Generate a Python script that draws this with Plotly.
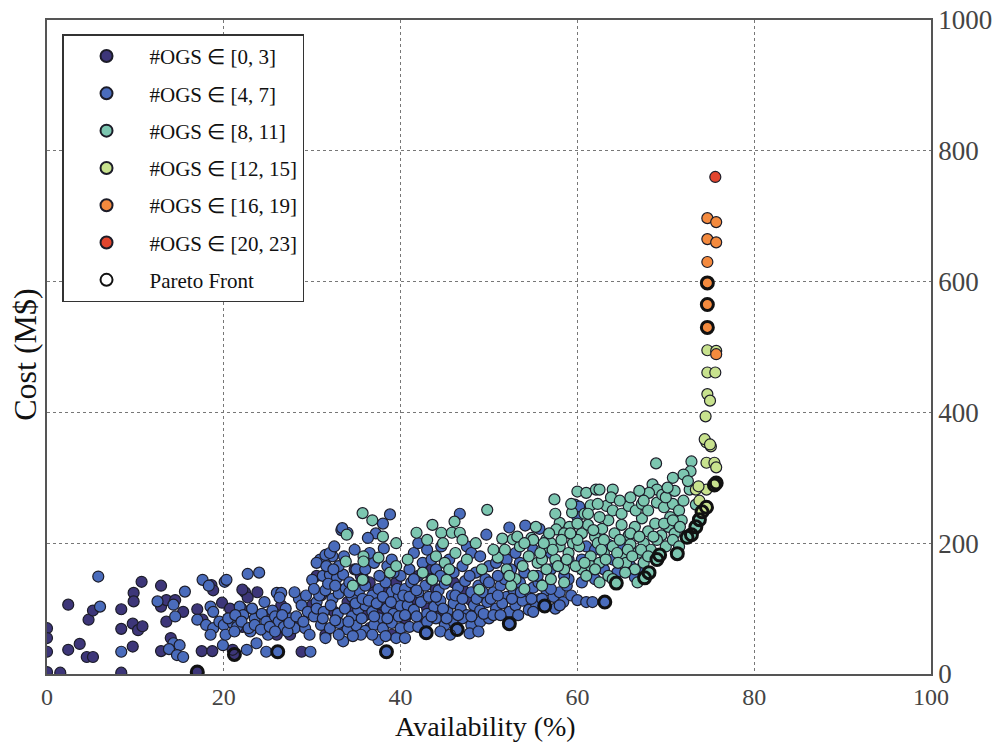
import plotly.graph_objects as go

# ---------------- data (availability %, cost M$) ----------------
ogs_0_3 = [
    (0, 70), (0, 55), (0, 34), (0, 3), (1.5, 2), (2.4, 106), (2.4, 37), (3.7, 46), (4.5, 26), (5.2, 26),
    (4.7, 83), (5.2, 97), (8.4, 99), (8.4, 69), (8.4, 2), (9.8, 124), (9.8, 111), (9.7, 77), (10.3, 67),
    (10.8, 73), (9.7, 42), (10.7, 141), (12.9, 135), (12.9, 103), (13.5, 113), (14.5, 113), (15.4, 95),
    (13.5, 80), (14.0, 55), (12.9, 35), (17.0, 99), (17.6, 83), (17.5, 35), (18.7, 35), (18.6, 136),
    (18.8, 128), (19.8, 109), (20.7, 100), (17.0, 3), (21.2, 30), (22.4, 125), (22.7, 117), (22.1, 129),
    (22.1, 72), (21.0, 37), (28.8, 34), (25.0, 90), (27.5, 60), (26.5, 105),
    (31.0, 120), (32.5, 95), (33.0, 130), (34.0, 110), (35.5, 150), (36.0, 90), (37.0, 125), (38.0, 105),
    (39.5, 140), (40.5, 85), (41.5, 115), (42.0, 150), (43.0, 100), (44.0, 130), (45.0, 90), (33.5, 75),
    (36.5, 70), (39.0, 60), (42.5, 75), (47.0, 130), (48.5, 100), (30.5, 150), (31.5, 60), (34.8, 160),
    (30.0, 105), (32.0, 140), (34.5, 100), (36.5, 140), (38.5, 125), (40.5, 110), (41.5, 95), (44.5, 95),
    (46.0, 140), (48.0, 112), (43.5, 160), (37.5, 90), (35.0, 135), (39.0, 100), (26.0, 60), (23.8, 125),
    (22.0, 100), (28.5, 80),
]

ogs_4_7 = [
    (6.0, 103), (5.8, 149), (8.4, 34), (12.5, 111), (14.3, 106), (15.6, 126), (14.5, 88), (14.3, 47),
    (15.0, 44), (13.8, 38), (14.7, 29), (15.4, 26), (17.0, 83), (17.6, 144), (18.5, 103), (18.8, 95),
    (18.0, 75), (18.8, 70), (19.5, 80), (20.0, 75), (19.9, 44), (20.1, 141), (18.3, 135),
    (20.3, 144), (22.7, 153), (24.0, 155), (21.8, 103), (21.0, 78), (21.5, 72), (18.5, 60), (20.2, 60),
    (21.2, 65), (22.6, 37), (23.7, 47), (23.5, 85), (24.3, 92), (24.8, 80), (25.5, 97), (26.0, 124),
    (26.5, 124), (26.3, 117), (25.8, 88), (26.2, 80), (26.8, 72), (27.5, 85), (28.0, 70), (27.2, 65),
    (24.8, 34), (28.5, 115), (28.8, 105), (29.2, 70), (29.8, 34), (30.0, 144), (30.9, 175), (32.3, 180),
    (33.3, 220), (29.5, 95), (30.2, 88), (30.5, 110), (27.0, 100), (23.0, 65), (22.2, 90), (25.0, 60),
    (26.1, 34),
    (20.5, 85), (21.3, 90), (22.0, 80), (22.8, 70), (23.5, 75), (24.2, 68), (25.2, 72), (25.8, 65),
    (26.6, 90), (27.4, 78), (28.2, 88), (29.0, 80), (29.7, 60), (23.2, 100), (24.6, 110), (28.0, 125),
    (29.3, 120),
    (31.2, 150), (32.0, 152), (32.8, 147), (33.5, 152), (31.5, 182), (32.0, 185),
    (30.8, 120), (31.5, 128), (32.3, 115), (33.0, 123), (33.8, 131), (34.5, 118), (35.3, 127), (36.0, 135),
    (36.8, 120), (37.5, 130), (38.3, 140), (39.0, 125), (39.8, 118),
    (30.5, 100), (31.3, 95), (32.1, 105), (32.9, 92), (33.7, 100), (34.5, 88), (35.2, 98), (36.0, 105),
    (36.8, 95), (37.6, 85), (38.4, 100), (39.2, 92), (40.0, 104),
    (31.0, 75), (32.0, 70), (33.0, 78), (34.0, 68), (35.0, 74), (36.0, 66), (37.0, 75), (38.0, 70),
    (39.0, 78), (40.0, 70), (31.5, 55), (33.5, 50), (35.5, 60), (37.5, 52), (39.5, 55),
    (30.5, 170), (33.0, 165), (35.0, 160), (37.0, 170), (38.5, 165), (36.5, 185), (38.1, 192), (37.2, 215),
    (36.3, 208), (34.0, 216), (33.4, 223), (38.8, 244), (39.0, 175), (40.0, 150), (35.8, 145), (34.2, 140),
    (38.4, 34),
    (30.2, 130), (31.8, 138), (32.6, 135), (34.2, 125), (34.9, 108), (35.7, 115), (36.4, 112), (37.3, 108),
    (38.0, 118), (38.9, 110), (39.6, 130), (31.2, 85), (32.6, 82), (34.1, 80), (35.6, 85), (37.0, 88),
    (38.5, 85), (39.8, 88), (33.0, 60), (34.6, 58), (36.8, 60), (38.3, 58), (32.5, 195), (34.8, 190),
    (33.6, 180), (31.6, 165), (32.4, 160), (36.0, 160), (37.6, 150), (39.2, 155), (38.0, 230),
    (40.5, 130), (41.2, 140), (42.0, 125), (42.8, 135), (43.5, 145), (44.3, 128), (45.0, 138), (45.8, 120),
    (46.5, 132), (47.3, 142), (48.0, 125), (48.8, 135), (49.5, 118),
    (40.8, 105), (41.5, 98), (42.3, 110), (43.0, 92), (43.8, 103), (44.5, 112), (45.3, 96), (46.0, 108),
    (46.8, 100), (47.5, 90), (48.3, 105), (49.0, 97), (49.8, 110),
    (41.0, 72), (42.0, 72), (43.0, 80), (44.0, 85), (45.0, 75), (46.0, 80), (47.0, 85), (48.0, 75),
    (49.0, 80), (50.0, 85), (42.9, 63), (46.4, 68),
    (41.0, 160), (42.5, 170), (44.0, 160), (45.5, 175), (47.0, 165), (48.5, 155), (50.0, 165), (41.5, 185),
    (43.0, 190), (46.7, 245), (49.7, 213), (47.5, 195), (44.5, 150),
    (40.3, 120), (41.0, 118), (41.8, 128), (43.2, 118), (44.0, 118), (44.8, 100), (46.2, 120), (47.0, 115),
    (48.6, 115), (49.3, 125), (40.5, 90), (41.8, 88), (43.5, 88), (45.2, 85), (46.5, 90), (48.0, 88),
    (49.4, 92), (40.5, 55), (44.5, 65), (45.6, 60), (47.8, 62), (48.8, 65), (42.0, 200), (44.6, 195),
    (48.0, 185), (49.0, 180), (43.5, 175), (46.0, 155), (47.8, 150), (49.6, 145), (41.5, 145),
    (50.5, 125), (51.3, 135), (52.0, 118), (52.8, 128), (53.5, 140), (54.3, 122), (55.0, 132), (55.8, 115),
    (56.5, 128), (57.3, 118), (58.0, 125), (58.8, 135),
    (50.8, 100), (51.5, 108), (52.3, 95), (53.0, 105), (53.8, 112), (54.5, 98), (55.3, 108), (56.0, 115),
    (52.3, 77), (56.3, 104),
    (50.2, 115), (51.0, 120), (51.8, 145), (52.6, 115), (53.6, 125), (54.8, 115), (55.6, 140), (57.0, 130),
    (58.4, 110), (59.3, 120), (50.5, 90), (51.3, 90), (53.3, 90), (55.0, 95), (50.0, 140), (50.8, 170),
    (52.0, 175), (53.5, 170), (57.5, 100), (59.0, 145), (58.0, 105),
    (51.0, 150), (52.5, 160), (54.0, 155), (55.5, 150), (57.0, 160), (58.5, 150),
    (52.3, 224), (54.1, 227), (55.7, 222), (53.0, 185), (55.0, 190), (57.0, 185), (59.0, 175),
    (60.0, 113), (61.0, 110), (61.7, 110), (63.1, 110), (59.7, 259), (60.2, 256), (60.0, 240),
    (61.0, 195), (62.0, 190), (63.5, 198), (65.0, 192), (63.0, 160), (64.5, 155), (66.0, 165), (62.0, 145),
    (60.5, 140), (64.0, 175), (67.0, 160), (66.5, 148), (60.5, 175),
]

ogs_8_11 = [
    (35.7, 246), (33.9, 213), (33.8, 172), (35.8, 180), (35.8, 172), (38.8, 155), (35.7, 144), (34.6, 135),
    (37.5, 178), (39.5, 200),
    (41.8, 216), (43.6, 228), (44.6, 216), (45.8, 216), (46.7, 216), (46.1, 233), (49.8, 251),
    (44.0, 180), (45.0, 170), (46.2, 185), (47.5, 175), (45.5, 160), (45.2, 144), (43.6, 144), (48.9, 129),
    (42.5, 155),
    (51.0, 178), (51.5, 207), (52.7, 206), (52.0, 160), (53.0, 145), (52.5, 135),
    (54.8, 208), (56.5, 206), (57.4, 267), (58.0, 231), (57.6, 221), (59.4, 247), (59.1, 225),
    (53.5, 195), (54.5, 180), (55.5, 170), (56.0, 190), (56.5, 160), (57.5, 175), (58.0, 195), (58.5, 160),
    (59.0, 185), (59.5, 200), (53.8, 165), (55.0, 150), (57.0, 145), (54.0, 130), (56.0, 135), (58.5, 140),
    (60.0, 279), (61.0, 277), (62.1, 282), (64.0, 282), (62.5, 282),
    (60.5, 215), (61.2, 228), (62.0, 210), (62.8, 222), (63.5, 235), (64.2, 215), (65.0, 228), (65.8, 212),
    (66.5, 225), (67.3, 238), (68.0, 218), (68.8, 230), (69.5, 212), (70.3, 225), (71.0, 215),
    (60.2, 195), (61.5, 180), (62.3, 200), (63.0, 185), (64.0, 195), (65.0, 180), (66.0, 198), (66.8, 185),
    (67.5, 200), (68.3, 190), (69.0, 205),
    (60.5, 160), (61.5, 165), (62.5, 170), (63.5, 150), (65.5, 170),
    (62.5, 240), (63.3, 257), (64.0, 250), (65.0, 245), (65.8, 257), (66.6, 250), (67.3, 260), (68.0, 250),
    (69.0, 262), (69.8, 255), (70.8, 260), (71.5, 250), (72.0, 265),
    (68.5, 290), (69.0, 282), (69.6, 274), (68.9, 322), (68.1, 277), (72.7, 282), (73.4, 259), (72.9, 325),
    (72.8, 310), (72.0, 305), (70.5, 240), (71.8, 235),
    (57.0, 200), (58.5, 215), (56.0, 175), (55.0, 205), (60.8, 245), (61.5, 258),
    (70.0, 195), (70.8, 205), (71.5, 195), (66.5, 160), (67.5, 170),
    (50.5, 190), (51.8, 190), (52.3, 150), (53.2, 210), (54.0, 200), (55.8, 185), (56.8, 215), (57.8, 165),
    (58.8, 175), (59.8, 165), (55.3, 225), (57.5, 245), (59.3, 260), (60.0, 230), (61.2, 245), (62.3, 260),
    (63.8, 270), (64.8, 265), (66.0, 270), (67.0, 280), (67.5, 265), (70.0, 270), (71.0, 280), (72.5, 295),
    (70.8, 300), (70.2, 285), (61.8, 220), (63.0, 205), (64.8, 205), (66.0, 215), (67.0, 210), (68.6, 210),
    (69.8, 230), (70.8, 235), (71.6, 225), (62.7, 190), (64.5, 185), (65.7, 190), (67.2, 190), (68.0, 180),
    (60.8, 170), (62.0, 160), (63.2, 175), (64.6, 170), (66.2, 180), (61.0, 150), (62.5, 140), (64.0, 145),
    (65.4, 155), (66.8, 140), (60.0, 205), (59.2, 215), (58.2, 205), (57.2, 190), (56.2, 200), (48.5, 200),
    (49.2, 160), (47.0, 205), (44.8, 200), (43.0, 205), (40.8, 175), (39.5, 165), (38.0, 210), (36.8, 235),
    (64.4, 139), (67.6, 147), (68.1, 155), (69.0, 175), (69.3, 182), (71.3, 184), (72.4, 209), (72.9, 213),
    (73.4, 225), (73.8, 236),
]

ogs_12_15 = [
    (74.6, 354), (75.1, 348), (74.6, 323), (75.5, 323), (75.7, 316), (73.4, 282), (74.6, 282), (73.7, 287),
    (74.7, 495), (75.7, 494), (74.7, 461), (75.6, 461), (74.7, 428), (75.0, 418), (74.5, 394), (74.4, 359),
    (75.0, 351), (73.8, 265), (74.1, 248), (74.6, 255), (75.5, 289), (75.7, 292),
]

ogs_16_19 = [
    (74.7, 697), (75.7, 691), (74.7, 665), (75.7, 660), (74.7, 630), (74.7, 598), (74.7, 565), (74.7, 530),
    (75.7, 489),
]

ogs_20_23 = [(75.6, 760)]

pareto = [
    (17.0, 3), (21.2, 30), (26.1, 34), (38.4, 34), (42.9, 63), (46.4, 68), (52.3, 77), (56.3, 104),
    (63.1, 110), (64.4, 139), (67.6, 147), (68.1, 155), (69.0, 175), (69.3, 182), (71.3, 184), (72.4, 209),
    (72.9, 213), (73.4, 225), (73.8, 236), (74.1, 248), (74.6, 255), (75.5, 289), (75.7, 292), (74.7, 530),
    (74.7, 565), (74.7, 598),
]

series_names = ["#OGS \u2208 [0, 3]", "#OGS \u2208 [4, 7]", "#OGS \u2208 [8, 11]",
                "#OGS \u2208 [12, 15]", "#OGS \u2208 [16, 19]", "#OGS \u2208 [20, 23]"]
series_data = [ogs_0_3, ogs_4_7, ogs_8_11, ogs_12_15, ogs_16_19, ogs_20_23]
series_colors = ["#3d3679", "#4a6cbc", "#7cc6b0", "#c8e28e", "#f48a3e", "#e2452e"]

x_ticks = [0, 20, 40, 60, 80, 100]
y_ticks = [0, 200, 400, 600, 800, 1000]

FONT = "Liberation Serif"

fig = go.Figure()
for i, (name, pts, col) in enumerate(zip(series_names, series_data, series_colors)):
    fig.add_trace(go.Scatter(
        x=[p[0] for p in pts], y=[p[1] for p in pts], mode="markers", name=name,
        legendgroup=f"g{i}",
        marker=dict(size=11, color=col, line=dict(color="#1c1c28", width=1.2)),
    ))
fig.add_trace(go.Scatter(
    x=[p[0] for p in pareto], y=[p[1] for p in pareto], mode="markers", name="Pareto Front",
    legendgroup="pareto",
    marker=dict(size=12, symbol="circle-open", color="#111111", line=dict(color="#111111", width=3)),
))

fig.update_layout(
    width=997, height=744,
    margin=dict(l=47, r=66, t=20, b=70),
    paper_bgcolor="white", plot_bgcolor="white",
    font=dict(family=FONT, color="#222222"),
    showlegend=True,
    legend=dict(
        x=0.017, y=0.978, xanchor="left", yanchor="top",
        bgcolor="white", bordercolor="#333333", borderwidth=1.5,
        font=dict(family=FONT, size=21, color="#111111"),
        tracegroupgap=7, itemsizing="constant", itemwidth=76,
    ),
    xaxis=dict(
        range=[0, 100], tickvals=x_ticks, ticks="", showgrid=True, automargin=False,
        gridcolor="#777777", griddash="dot", gridwidth=1,
        showline=True, linecolor="#555555", linewidth=1.5, mirror=True, zeroline=False,
        tickfont=dict(family=FONT, size=24, color="#444444"),
    ),
    yaxis=dict(
        range=[0, 1000], tickvals=y_ticks, ticks="", side="right", showgrid=True, automargin=False,
        gridcolor="#777777", griddash="dot", gridwidth=1,
        showline=True, linecolor="#555555", linewidth=1.5, mirror=True, zeroline=False,
        tickfont=dict(family=FONT, size=27, color="#444444"),
    ),
    annotations=[
        dict(
            text="Cost (M$)", xref="paper", yref="paper", x=-0.025, y=0.488,
            textangle=-90, showarrow=False, xanchor="center", yanchor="middle",
            font=dict(family=FONT, size=32, color="#111111"),
        ),
        dict(
            text="Availability (%)", xref="paper", yref="paper", x=0.496, y=-0.081,
            showarrow=False, xanchor="center", yanchor="middle",
            font=dict(family=FONT, size=28, color="#111111"),
        ),
    ],
)

fig.write_html("out.html")
